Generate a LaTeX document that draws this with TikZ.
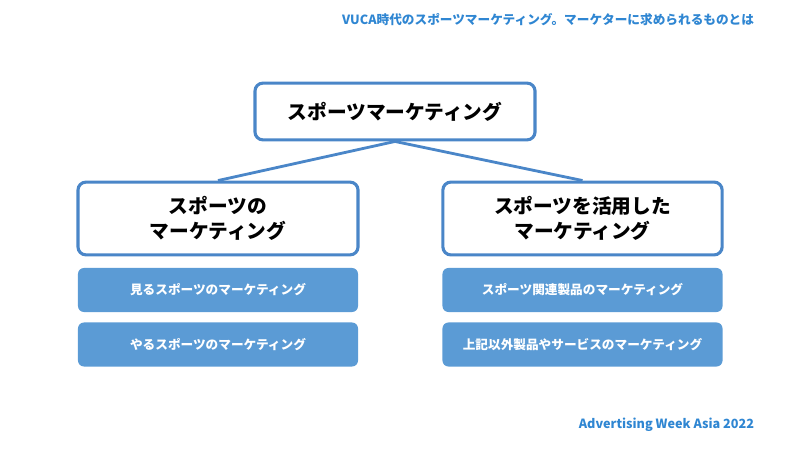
\documentclass[tikz,border=0pt]{standalone}
\usepackage{fontspec}
\setmainfont{Noto Sans CJK JP}
\usetikzlibrary{positioning}
\definecolor{frameblue}{HTML}{4A86C8}
\definecolor{cellblue}{HTML}{5B9BD5}
\definecolor{titleblue}{HTML}{2F86D2}
\begin{document}
\begin{tikzpicture}[x=0.025cm,y=-0.025cm,
    % styles for the boxes
    headbox/.style={draw=frameblue, line width=2.2pt, fill=white, rounded corners=2mm, align=center, font=\bfseries\fontsize{14}{18}\selectfont},
    itembox/.style={fill=cellblue, rounded corners=1.5mm, minimum width=7cm, minimum height=1.1cm, text=white, font=\bfseries\fontsize{9}{11}\selectfont},
    link/.style={draw=frameblue, line width=2pt},
    caption/.style={text=titleblue, font=\bfseries\fontsize{9}{11}\selectfont, anchor=east}
]
\useasboundingbox (0,0) rectangle (800,452);

% heading
\node[caption] (title) at (759,20) {VUCA時代のスポーツマーケティング。マーケターに求められるものとは};
\node[caption] (source) at (759,425) {Advertising Week Asia 2022};

% tree
\node[headbox, minimum width=7cm, minimum height=1.42cm] (root) at (395,111.5) {スポーツマーケティング};
\node[headbox, minimum width=7cm, minimum height=1.82cm] (watch) at (218,218.5) {スポーツの\\マーケティング};
\node[headbox, minimum width=6.98cm, minimum height=1.82cm] (use) at (582.5,218.5) {スポーツを活用した\\マーケティング};

\draw[link] (root.south) -- (watch.north);
\draw[link] (root.south) -- (use.north);

% items
\node[itembox] (see) at (218,290) {見るスポーツのマーケティング};
\node[itembox] (play) at (218,344.5) {やるスポーツのマーケティング};
\node[itembox] (goods) at (582.5,290) {スポーツ関連製品のマーケティング};
\node[itembox] (other) at (582.5,344.5) {上記以外製品やサービスのマーケティング};
\end{tikzpicture}
\end{document}
